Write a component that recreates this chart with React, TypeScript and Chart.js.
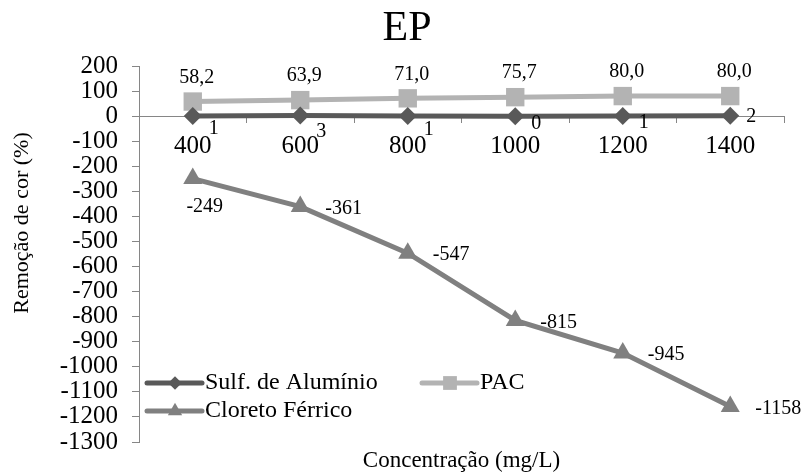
import React, { useEffect, useRef } from 'react';
import { Chart, registerables } from 'chart.js';

Chart.register(...registerables);

// ---- data ----
const categories = ['400', '600', '800', '1000', '1200', '1400'];
const sulfValues = [1, 3, 1, 0, 1, 2];
const pacValues = [58.2, 63.9, 71.0, 75.7, 80.0, 80.0];
const cloretoValues = [-249, -361, -547, -815, -945, -1158];
const seriesNames = ['Sulf. de Alumínio', 'PAC', 'Cloreto Férrico'];
const yMin = -1300;
const yMax = 200;
const yStep = 100;
const chartTitle = 'EP';
const xAxisTitle = 'Concentração (mg/L)';
const yAxisTitle = 'Remoção de cor (%)';

// ---- styles ----
const FONT = '"Liberation Serif", "Times New Roman", serif';
const colors = ['#595959', '#b3b3b3', '#808080'];
const pointStyles = ['rectRot', 'rect', 'triangle'];
const pointRadii = [9, 13, 11];
const AXIS = '#868686';

// label placement per series (style only)
const sulfLabelDy = [13, 16, 14, 8, 7, 1];

function fmt(ds: number, v: number): string {
  if (ds === 1) return v.toFixed(1).replace('.', ',');
  return String(v);
}

const labelsPlugin = {
  id: 'dataLabels',
  afterDatasetsDraw(chart: any) {
    const ctx = chart.ctx;
    ctx.save();
    ctx.font = `20px ${FONT}`;
    ctx.fillStyle = '#000';
    chart.data.datasets.forEach((ds: any, di: number) => {
      const meta = chart.getDatasetMeta(di);
      meta.data.forEach((el: any, i: number) => {
        const v = ds.data[i];
        const t = fmt(di, v);
        let x = el.x, y = el.y;
        if (di === 0) {
          ctx.textAlign = 'left'; ctx.textBaseline = 'middle';
          x += 16; y += sulfLabelDy[i];
        } else if (di === 1) {
          ctx.textAlign = 'center'; ctx.textBaseline = 'middle';
          x += 4; y -= 24;
        } else {
          if (i === 0) {
            ctx.textAlign = 'center'; ctx.textBaseline = 'middle';
            x += 12; y += 28;
          } else {
            ctx.textAlign = 'left'; ctx.textBaseline = 'middle';
            x += 25; y += 2;
          }
        }
        ctx.fillText(t, x, y);
      });
    });
    ctx.restore();
  },
};

function drawMarker(ctx: CanvasRenderingContext2D, style: string, x: number, y: number, r: number) {
  ctx.beginPath();
  if (style === 'rectRot') {
    ctx.moveTo(x, y - r); ctx.lineTo(x + r, y); ctx.lineTo(x, y + r); ctx.lineTo(x - r, y);
  } else if (style === 'rect') {
    const s = r * Math.SQRT1_2;
    ctx.rect(x - s, y - s, 2 * s, 2 * s);
  } else {
    const h = r * 1.5;
    const w = r * Math.sqrt(3) / 2;
    ctx.moveTo(x, y - r); ctx.lineTo(x + w, y + h - r); ctx.lineTo(x - w, y + h - r);
  }
  ctx.closePath();
  ctx.fill();
}

const overlayPlugin = {
  id: 'overlay',
  afterDraw(chart: any) {
    const ctx = chart.ctx;
    const ca = chart.chartArea;
    ctx.save();
    // title
    ctx.fillStyle = '#000';
    ctx.font = `42px ${FONT}`;
    ctx.textAlign = 'center';
    ctx.textBaseline = 'alphabetic';
    ctx.fillText(chartTitle, 407, 40);
    // x title
    ctx.font = `23px ${FONT}`;
    ctx.textBaseline = 'middle';
    ctx.fillText(xAxisTitle, (ca.left + ca.right) / 2, 461);
    // y title
    ctx.save();
    ctx.translate(22, 223);
    ctx.rotate(-Math.PI / 2);
    ctx.font = `22px ${FONT}`;
    ctx.fillText(yAxisTitle, 0, 0);
    ctx.restore();
    // legend
    const rows = [
      { x: ca.left + 8, y: ca.bottom - 59 },
      { x: ca.left + 283, y: ca.bottom - 59 },
      { x: ca.left + 8, y: ca.bottom - 31 },
    ];
    seriesNames.forEach((name, i) => {
      const { x, y } = rows[i];
      ctx.strokeStyle = colors[i];
      ctx.fillStyle = colors[i];
      ctx.lineWidth = 5;
      ctx.lineCap = 'round';
      ctx.beginPath();
      ctx.moveTo(x, y); ctx.lineTo(x + 55, y);
      ctx.stroke();
      drawMarker(ctx, pointStyles[i], x + 28, y, pointRadii[i] * 0.75);
      ctx.fillStyle = '#000';
      ctx.font = `24px ${FONT}`;
      ctx.textAlign = 'left';
      ctx.textBaseline = 'middle';
      ctx.fillText(name, x + 58, y);
    });
    ctx.restore();
  },
};

export default function App() {
  const ref = useRef<HTMLCanvasElement | null>(null);
  useEffect(() => {
    document.body.style.margin = '0';
    const canvas = ref.current!;
    const series = [sulfValues, pacValues, cloretoValues];
    const chart = new Chart(canvas, {
      type: 'line',
      data: {
        labels: categories,
        datasets: series.map((d, i) => ({
          label: seriesNames[i],
          data: d,
          borderColor: colors[i],
          backgroundColor: colors[i],
          borderWidth: 5,
          pointStyle: pointStyles[i] as any,
          pointRadius: pointRadii[i],
          pointBorderWidth: 0,
          pointBackgroundColor: colors[i],
          tension: 0,
          clip: false as any,
        })),
      },
      options: {
        animation: false,
        responsive: false,
        layout: { padding: { top: 66, bottom: 31, right: 23, left: 0 } },
        plugins: {
          legend: { display: false },
          title: { display: false },
          tooltip: { enabled: false },
        },
        scales: {
          x: {
            type: 'category',
            position: { y: 0 } as any,
            offset: true,
            grid: { drawOnChartArea: false, offset: true, tickLength: 6, color: AXIS, tickColor: AXIS },
            border: { color: AXIS, width: 1 },
            ticks: { color: '#000', font: { family: FONT, size: 25 }, padding: 9, maxRotation: 0, autoSkip: false },
          },
          y: {
            min: yMin,
            max: yMax,
            afterFit: (s: any) => { s.width = 139; },
            grid: { drawOnChartArea: false, tickLength: 7, color: AXIS, tickColor: AXIS },
            border: { color: AXIS, width: 1 },
            ticks: {
              stepSize: yStep,
              autoSkip: false,
              color: '#000',
              font: { family: FONT, size: 25 },
              padding: 14,
              callback: (v: any) => String(v),
            },
          },
        },
      },
      plugins: [labelsPlugin, overlayPlugin],
    });
    return () => chart.destroy();
  }, []);
  return <canvas ref={ref} width={807} height={473} style={{ display: 'block', width: 807, height: 473 }} />;
}
